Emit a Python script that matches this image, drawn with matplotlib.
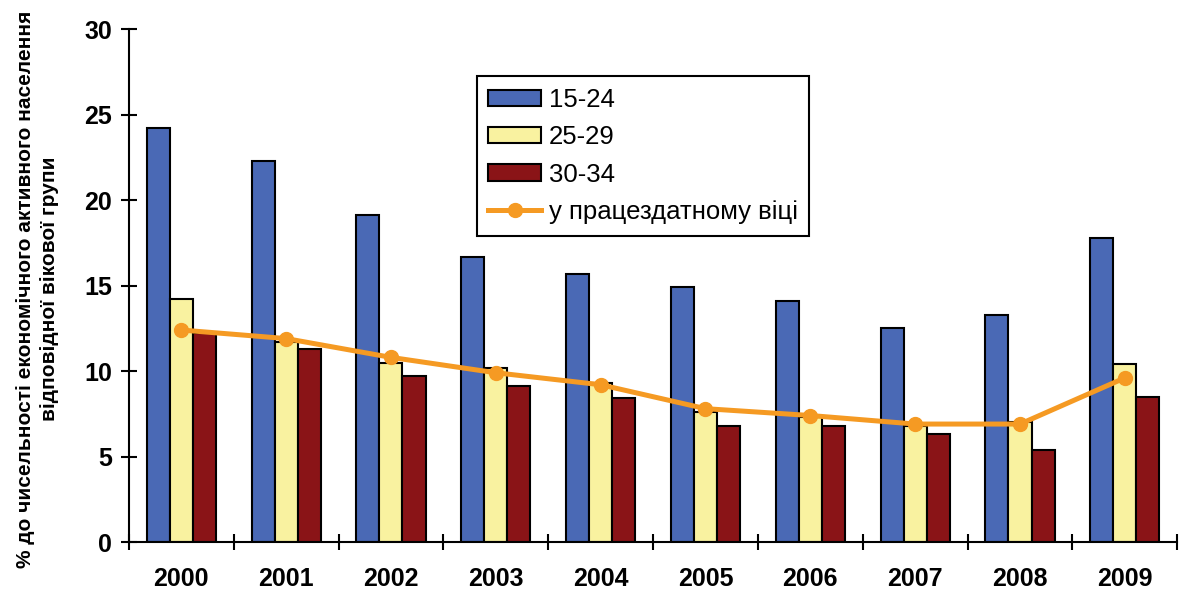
import numpy as np
import matplotlib
matplotlib.use("Agg")
import matplotlib.pyplot as plt
from matplotlib.ticker import FixedLocator

plt.rcParams['font.family'] = ['Liberation Sans', 'DejaVu Sans']

years = ['2000', '2001', '2002', '2003', '2004', '2005', '2006', '2007', '2008', '2009']
age_15_24 = [24.2, 22.3, 19.1, 16.7, 15.7, 14.9, 14.1, 12.5, 13.3, 17.8]
age_25_29 = [14.2, 11.7, 10.5, 10.2, 9.3, 7.6, 7.3, 6.8, 7.0, 10.4]
age_30_34 = [12.2, 11.3, 9.7, 9.1, 8.4, 6.8, 6.8, 6.3, 5.4, 8.5]
working_age = [12.4, 11.9, 10.8, 9.9, 9.2, 7.8, 7.4, 6.9, 6.9, 9.6]

labels = ['15-24', '25-29', '30-34', 'у працездатному віці']
colors = ['#4a69b5', '#f9f2a0', '#8a1417']
line_color = '#f59a23'

fig = plt.figure(figsize=(11.82, 5.94), dpi=100)
ax = fig.add_axes([0.109, 0.0875, 0.887, 0.8635])

x = np.arange(len(years))
w = 0.22
bars = []
for i, (vals, c, lab) in enumerate(zip([age_15_24, age_25_29, age_30_34], colors, labels[:3])):
    b = ax.bar(x + (i - 1) * w, vals, width=w, color=c, edgecolor='black', linewidth=1.5, label=lab, zorder=2)
    bars.append(b)

ln, = ax.plot(x, working_age, color=line_color, linewidth=3.6, marker='o', markersize=10,
              label=labels[3], zorder=3)

ax.set_xlim(-0.5, len(years) - 0.5)
ax.set_ylim(0, 30)
ax.set_yticks([0, 5, 10, 15, 20, 25, 30])

# ticks at category boundaries, labels at centres
ax.xaxis.set_major_locator(FixedLocator(np.arange(-0.5, len(years), 1.0)))
ax.xaxis.set_minor_locator(FixedLocator(x))
ax.set_xticklabels([])
ax.set_xticklabels(years, minor=True)
ax.tick_params(axis='x', which='major', direction='inout', length=12, width=1.5)
ax.tick_params(axis='x', which='minor', length=0, pad=18, labelsize=18)
ax.tick_params(axis='y', direction='inout', length=12, width=1.5, labelsize=18, pad=6)
for t in ax.get_xticklabels(minor=True) + ax.get_yticklabels():
    t.set_fontweight('bold')

for s in ['top', 'right']:
    ax.spines[s].set_visible(False)
for s in ['left', 'bottom']:
    ax.spines[s].set_linewidth(1.5)

ax.set_ylabel('% до чисельності економічного активного населення\nвідповідної вікової групи',
              fontsize=15, fontweight='bold', linespacing=1.3)
ax.yaxis.set_label_coords(-0.067, 0.493)

leg = ax.legend(handles=bars + [ln], labels=labels, loc='upper left',
                bbox_to_anchor=(0.332, 0.908), fontsize=18.5,
                frameon=True, fancybox=False, edgecolor='black', framealpha=1,
                handlelength=2.05, handleheight=0.6, handletextpad=0.3,
                labelspacing=0.52, borderpad=0.45, borderaxespad=0)
leg.get_frame().set_linewidth(1.5)

fig.savefig('out.png', dpi=100)
